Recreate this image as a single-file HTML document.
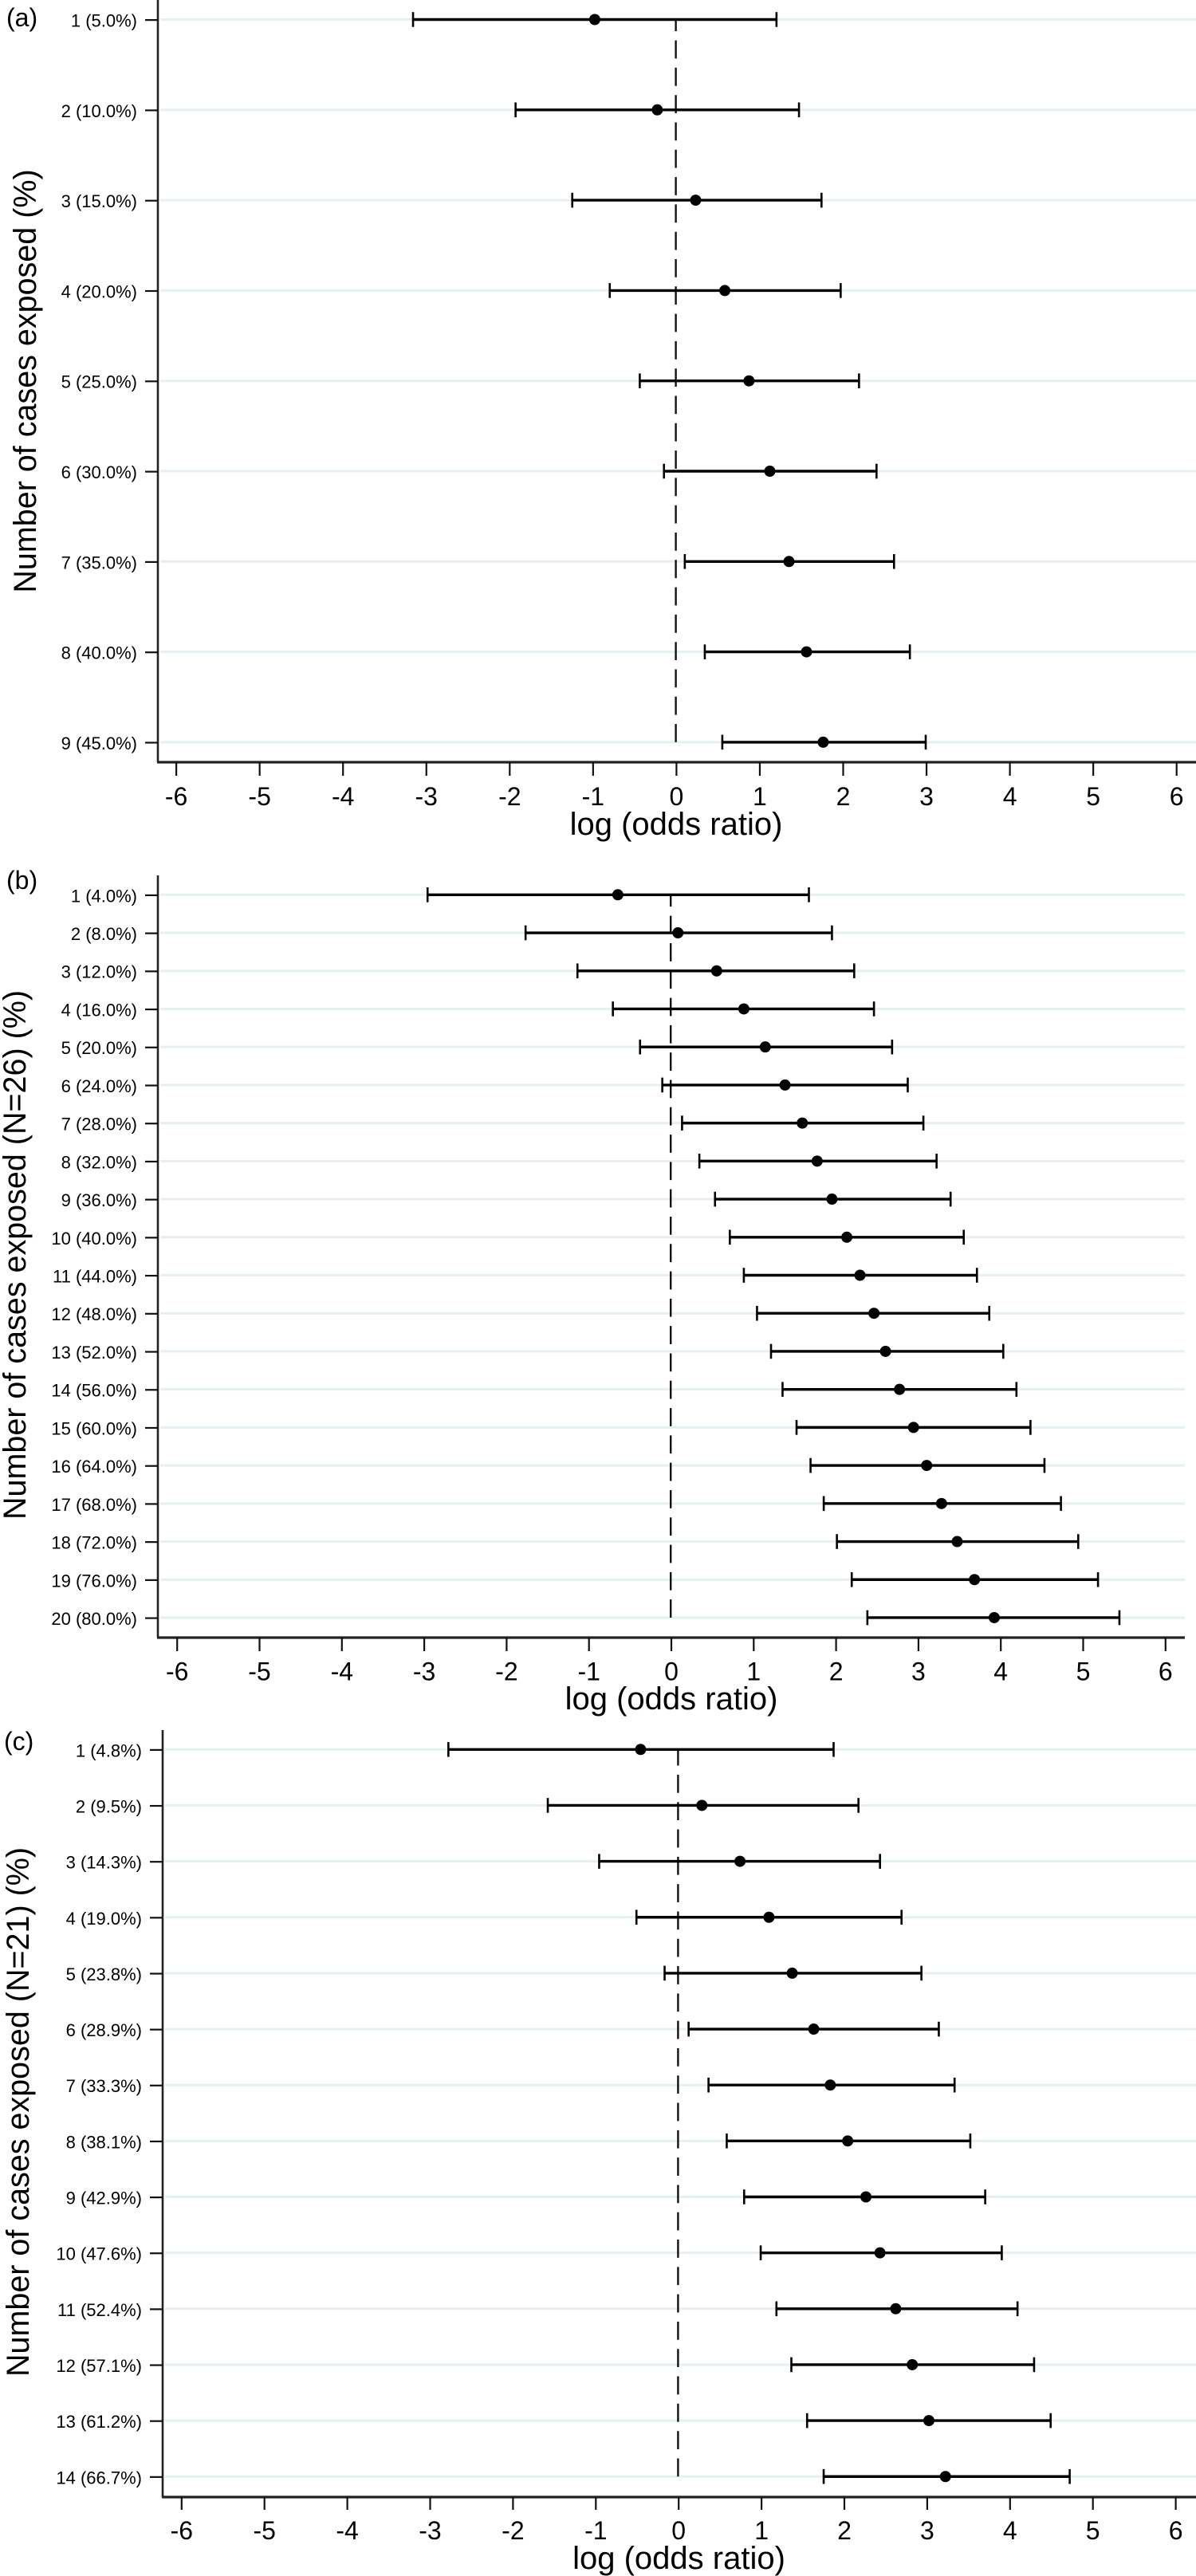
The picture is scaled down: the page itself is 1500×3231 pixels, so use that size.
<!DOCTYPE html>
<html lang="en">
<head>
<meta charset="utf-8">
<title>Log odds ratio by number of cases exposed</title>
<style>
  html, body { margin: 0; padding: 0; background: #fff; }
  body { width: 1500px; height: 3231px; overflow: hidden; }
  svg { display: block; font-family: "Liberation Sans", Arial, sans-serif; }
  text { fill: #000; }
  .panel-tag { font-size: 32px; }
  .axis-title { font-size: 40px; text-anchor: middle; }
  .y-title { font-size: 39.5px; text-anchor: middle; }
</style>
</head>
<body>
<svg id="chart" xmlns="http://www.w3.org/2000/svg" width="1500" height="3231" viewBox="0 0 1500 3231">
  <rect x="0" y="0" width="1500" height="3231" fill="#ffffff"/>

  <g id="panel-a">
    <text class="panel-tag" x="8" y="33">(a)</text>
    <text class="y-title" transform="translate(45 478) rotate(-90)">Number of cases exposed (%)</text>
    <text class="axis-title" x="848" y="1047">log (odds ratio)</text>
  </g>

  <g id="panel-b">
    <text class="panel-tag" x="8" y="1115">(b)</text>
    <text class="y-title" transform="translate(32 1574) rotate(-90)">Number of cases exposed (N=26) (%)</text>
    <text class="axis-title" x="842" y="2144">log (odds ratio)</text>
  </g>

  <g id="panel-c">
    <text class="panel-tag" x="5" y="2195">(c)</text>
    <text class="y-title" transform="translate(36 2649) rotate(-90)">Number of cases exposed (N=21) (%)</text>
    <text class="axis-title" x="851.5" y="3222">log (odds ratio)</text>
  </g>
</svg>

<script>
// Shared x-axis tick labels
const xTickValues = [-6, -5, -4, -3, -2, -1, 0, 1, 2, 3, 4, 5, 6];

// Panel (a)
const aLabels = ["1 (5.0%)", "2 (10.0%)", "3 (15.0%)", "4 (20.0%)", "5 (25.0%)", "6 (30.0%)", "7 (35.0%)", "8 (40.0%)", "9 (45.0%)"];
const aLower = [-3.16, -1.93, -1.25, -0.80, -0.44, -0.15, 0.10, 0.34, 0.55];
const aMean = [-0.98, -0.23, 0.23, 0.58, 0.87, 1.12, 1.35, 1.56, 1.76];
const aUpper = [1.20, 1.47, 1.74, 1.97, 2.19, 2.40, 2.61, 2.80, 2.99];

// Panel (b)
const bLabels = ["1 (4.0%)", "2 (8.0%)", "3 (12.0%)", "4 (16.0%)", "5 (20.0%)", "6 (24.0%)", "7 (28.0%)", "8 (32.0%)", "9 (36.0%)", "10 (40.0%)", "11 (44.0%)", "12 (48.0%)", "13 (52.0%)", "14 (56.0%)", "15 (60.0%)", "16 (64.0%)", "17 (68.0%)", "18 (72.0%)", "19 (76.0%)", "20 (80.0%)"];
const bLower = [-2.96, -1.77, -1.14, -0.71, -0.38, -0.11, 0.13, 0.34, 0.53, 0.71, 0.88, 1.04, 1.21, 1.35, 1.52, 1.69, 1.85, 2.01, 2.19, 2.38];
const bMean = [-0.65, 0.08, 0.55, 0.88, 1.14, 1.38, 1.59, 1.77, 1.95, 2.13, 2.29, 2.46, 2.60, 2.77, 2.94, 3.10, 3.28, 3.47, 3.68, 3.92];
const bUpper = [1.67, 1.95, 2.22, 2.46, 2.68, 2.87, 3.06, 3.22, 3.39, 3.55, 3.71, 3.86, 4.03, 4.19, 4.36, 4.53, 4.73, 4.94, 5.18, 5.44];

// Panel (c)
const cLabels = ["1 (4.8%)", "2 (9.5%)", "3 (14.3%)", "4 (19.0%)", "5 (23.8%)", "6 (28.9%)", "7 (33.3%)", "8 (38.1%)", "9 (42.9%)", "10 (47.6%)", "11 (52.4%)", "12 (57.1%)", "13 (61.2%)", "14 (66.7%)"];
const cLower = [-2.78, -1.58, -0.96, -0.51, -0.17, 0.12, 0.36, 0.58, 0.79, 0.99, 1.18, 1.36, 1.55, 1.75];
const cMean = [-0.46, 0.28, 0.74, 1.09, 1.37, 1.63, 1.83, 2.04, 2.26, 2.43, 2.62, 2.82, 3.02, 3.22];
const cUpper = [1.87, 2.17, 2.43, 2.69, 2.93, 3.14, 3.33, 3.52, 3.70, 3.90, 4.09, 4.29, 4.49, 4.72];

const panelLayouts = [
  { id: "a", labels: aLabels, lower: aLower, mean: aMean, upper: aUpper,
    zero: 848.4, unit: 104.55, firstY: 24.5, step: 113.3,
    axisX: 198, axisY: 956, right: 1500, top: 0, tickBottom: 973, tickLabelY: 1010, labelRight: 172 },
  { id: "b", labels: bLabels, lower: bLower, mean: bMean, upper: bUpper,
    zero: 842, unit: 103.3, firstY: 1122.3, step: 47.72,
    axisX: 198, axisY: 2054, right: 1486, top: 1098, tickBottom: 2071, tickLabelY: 2107.5, labelRight: 172 },
  { id: "c", labels: cLabels, lower: cLower, mean: cMean, upper: cUpper,
    zero: 851.2, unit: 103.9, firstY: 2194.3, step: 70.15,
    axisX: 204, axisY: 3132, right: 1500, top: 2170, tickBottom: 3148, tickLabelY: 3185, labelRight: 178 }
];

const SVG_NS = "http://www.w3.org/2000/svg";

function make(tag, attrs, parent) {
  const node = document.createElementNS(SVG_NS, tag);
  for (const key in attrs) node.setAttribute(key, attrs[key]);
  parent.appendChild(node);
  return node;
}

function xScale(p, value) { return p.zero + value * p.unit; }
function yScale(p, index) { return p.firstY + index * p.step; }

function drawPanel(p) {
  const root = document.getElementById("panel-" + p.id);
  const count = p.labels.length;

  // Horizontal grid lines
  for (let i = 0; i < count; i++) {
    const y = yScale(p, i);
    const grid = make("line", { x1: p.axisX + 3, x2: p.right, y1: y, y2: y, stroke: "#e6eff2", "stroke-width": 3 }, root);
    
    
  }

  // Dashed reference line at zero, dash pattern anchored at the last row
  const ref = make("line", {
    x1: xScale(p, 0) - 0.8, x2: xScale(p, 0) - 0.8,
    y1: yScale(p, count - 1), y2: yScale(p, 0),
    stroke: "#111", "stroke-width": 2.4, "stroke-dasharray": "22.8 11.5"
  }, root);
  
  

  // Left axis
  const yAxis = make("line", { x1: p.axisX, x2: p.axisX, y1: p.top, y2: p.axisY, stroke: "#222", "stroke-width": 2.6 }, root);
  
  

  // Bottom axis
  const xAxis = make("line", { x1: p.axisX - 1, x2: p.right, y1: p.axisY, y2: p.axisY, stroke: "#222", "stroke-width": 3.2 }, root);
  
  

  // X ticks and labels
  xTickValues.forEach(function (value) {
    const x = xScale(p, value);
    const tick = make("line", { x1: x, x2: x, y1: p.axisY, y2: p.tickBottom, stroke: "#111", "stroke-width": 2.2 }, root);
    
    
    const label = make("text", { x: x, y: p.tickLabelY, "text-anchor": "middle", "font-size": 32 }, root);
    
    
    label.textContent = String(value);
  });

  // Rows: y tick, label, interval, point
  p.labels.forEach(function (text, i) {
    const y = yScale(p, i);

    const tick = make("line", { x1: p.axisX - 16, x2: p.axisX, y1: y + 0.6, y2: y + 0.6, stroke: "#111", "stroke-width": 2.2 }, root);
    
    

    const label = make("text", { x: p.labelRight, y: y + 9, "text-anchor": "end", "font-size": 22 }, root);
    
    
    label.textContent = text;

    const xLo = xScale(p, p.lower[i]);
    const xHi = xScale(p, p.upper[i]);

    const bar = make("line", { x1: xLo, x2: xHi, y1: y, y2: y, stroke: "#000", "stroke-width": 3.4 }, root);
    
    

    const capLo = make("line", { x1: xLo, x2: xLo, y1: y - 9.3, y2: y + 9.3, stroke: "#000", "stroke-width": 2.6 }, root);
    
    

    const capHi = make("line", { x1: xHi, x2: xHi, y1: y - 9.3, y2: y + 9.3, stroke: "#000", "stroke-width": 2.6 }, root);
    
    

    const point = make("circle", { cx: xScale(p, p.mean[i]), cy: y, r: 7, fill: "#000" }, root);
    
    
  });
}

panelLayouts.forEach(drawPanel);
</script>
</body>
</html>
